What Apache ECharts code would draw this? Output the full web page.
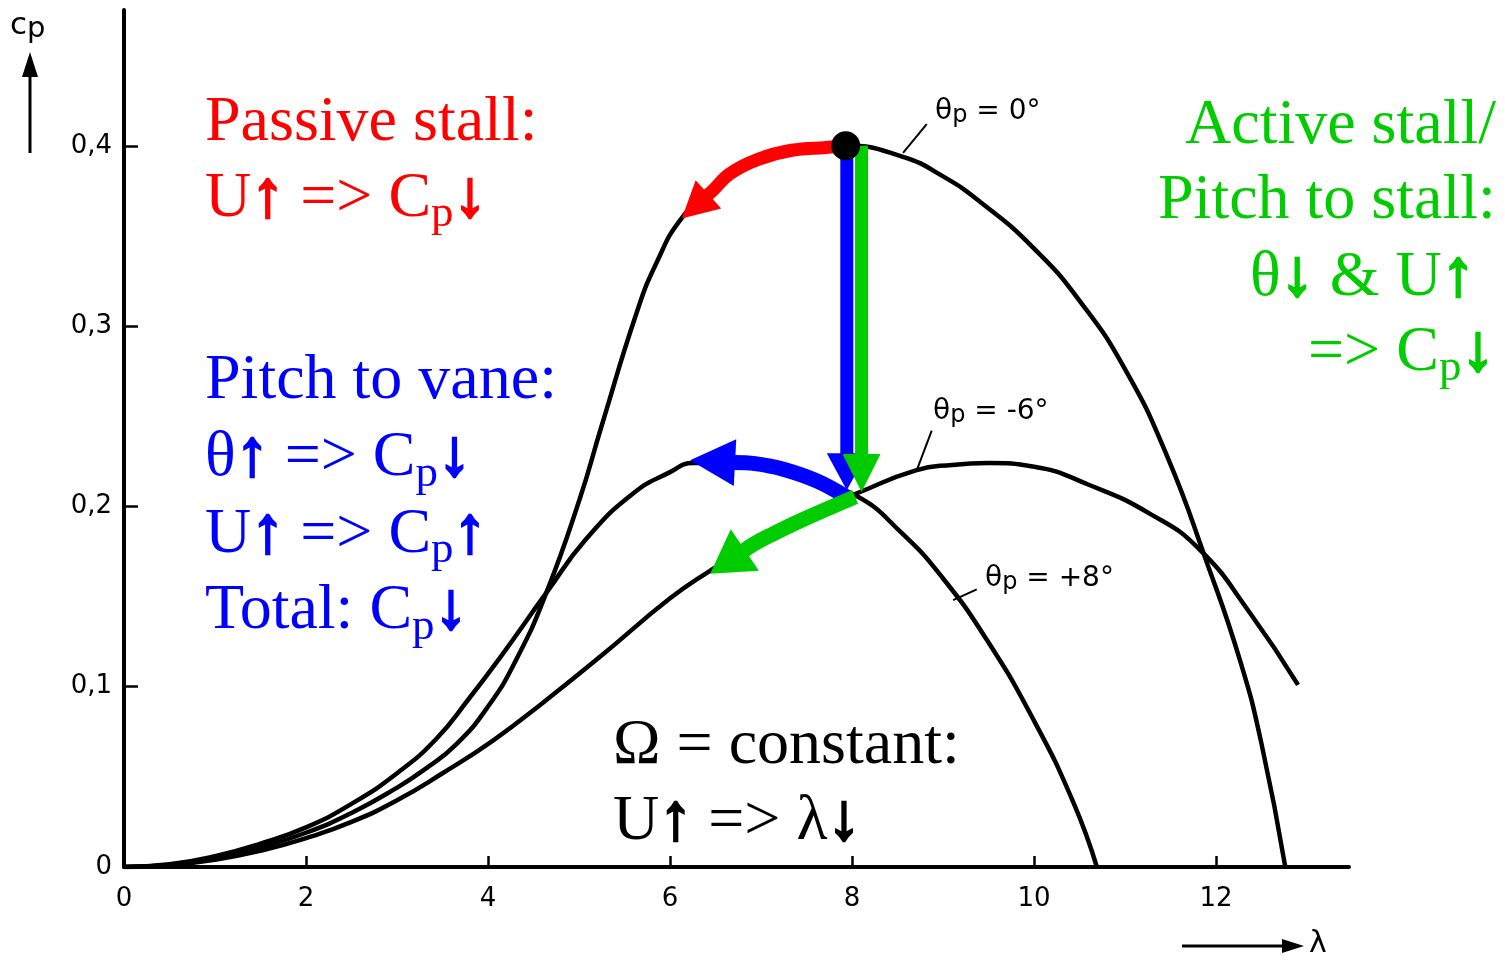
<!DOCTYPE html>
<html><head><meta charset="utf-8">
<script src="https://cdn.jsdelivr.net/npm/echarts@6/dist/echarts.min.js"></script>
<style>html,body{margin:0;padding:0;background:#fff}#c{width:1505px;height:961px}</style>
</head><body><div id="c"></div>
<script>
// ---------------- data ----------------
// theta_p = 0 deg
const lam0 = [0, 0.5, 1, 1.5, 2, 2.5, 3, 3.3, 3.65, 4.0, 4.31, 4.64, 5.0, 5.25, 5.63, 5.85, 6.13, 6.5, 7.0, 7.5, 7.93, 8.55, 9.0, 9.43, 10.0, 10.5, 11.0, 11.46, 11.89, 12.26, 12.5, 12.76];
const cp0  = [0, 0.001, 0.005, 0.011, 0.019, 0.030, 0.044, 0.054, 0.068, 0.089, 0.115, 0.152, 0.203, 0.245, 0.307, 0.335, 0.360, 0.378, 0.391, 0.398, 0.400, 0.394, 0.383, 0.368, 0.343, 0.314, 0.276, 0.228, 0.170, 0.115, 0.068, 0.0];
// theta_p = -6 deg
const lamM6 = [0, 0.5, 1, 1.5, 2, 2.5, 3, 3.43, 3.8, 4.13, 4.64, 5.08, 5.59, 6.0, 6.25, 6.6, 7.0, 7.5, 8.04, 8.55, 9.0, 9.48, 9.99, 10.43, 10.69];
const cpM6  = [0, 0.0015, 0.006, 0.013, 0.022, 0.035, 0.052, 0.071, 0.094, 0.116, 0.152, 0.182, 0.207, 0.219, 0.224, 0.224, 0.221, 0.214, 0.206, 0.185, 0.160, 0.126, 0.082, 0.036, 0.0];
// theta_p = +8 deg
const lamP8 = [0, 0.5, 1, 1.5, 2, 2.5, 3, 3.5, 4.05, 4.6, 5.24, 6.0, 6.43, 7.0, 7.5, 8.04, 8.7, 9.1, 9.5, 10.0, 10.6, 11.27, 11.82, 12.37, 12.9];
const cpP8  = [0, 0.001, 0.004, 0.009, 0.016, 0.025, 0.037, 0.052, 0.070, 0.091, 0.117, 0.149, 0.164, 0.182, 0.196, 0.207, 0.220, 0.223, 0.224, 0.222, 0.212, 0.196, 0.176, 0.141, 0.101];

const xTickValues  = [2, 4, 6, 8, 10, 12];
const xLabelValues = [0, 2, 4, 6, 8, 10, 12];
const yTickValues  = [0.1, 0.2, 0.3, 0.4];
const yLabelValues = [0, 0.1, 0.2, 0.3, 0.4];

const optimumPoint = [[7.93, 0.400]];

// annotation arrows (data coordinates; shaft points followed by the tip)
const arrowRed       = [[7.923, 0.4007], [7.777, 0.3993], [7.337, 0.3975], [6.967, 0.3925], [6.659, 0.3846], [6.473, 0.3754], [6.129, 0.3596]];
const arrowBlueDown  = [[7.942, 0.400], [7.942, 0.240], [7.942, 0.209]];
const arrowGreenDown = [[8.104, 0.400], [8.104, 0.240], [8.104, 0.208]];
const arrowBlueLeft  = [[7.945, 0.2050], [7.612, 0.2141], [7.245, 0.2206], [6.934, 0.2237], [6.220, 0.2256]];
const arrowGreenLeft = [[8.033, 0.2053], [7.429, 0.1920], [7.099, 0.1839], [6.912, 0.1789], [6.440, 0.1627]];

// curve label leader lines
const leader0  = [[8.56, 0.396], [8.82, 0.412]];
const leaderM6 = [[8.71, 0.220], [8.875, 0.242]];
const leaderP8 = [[9.11, 0.148], [9.37, 0.154]];

// ---------------- chart ----------------
const RED = '#ff0000', BLUE = '#0000ff', GREEN = '#00cc00';
const arrowPaths  = [arrowRed, arrowBlueDown, arrowGreenDown, arrowBlueLeft, arrowGreenLeft];
const arrowStyles = [
  {color: RED,   width: 13, headW: 38, headL: 36},
  {color: BLUE,  width: 13, headW: 40, headL: 37},
  {color: GREEN, width: 13, headW: 38, headL: 38},
  {color: BLUE,  width: 15, headW: 47, headL: 45},
  {color: GREEN, width: 15, headW: 50, headL: 42}
];

const serif = "'Liberation Serif','Times New Roman',serif";
const sans = "'DejaVu Sans',sans-serif";
function pairs(xs, ys) { return xs.map((x, i) => [x, ys[i]]); }

function curveSeries(xs, ys) {
  return {type: 'line', data: pairs(xs, ys), smooth: 0.5, showSymbol: false,
    lineStyle: {color: '#000', width: 4.5}, z: 2, silent: true};
}
function leaderSeries(pts) {
  return {type: 'line', data: pts, showSymbol: false, lineStyle: {color: '#000', width: 2}, z: 3, silent: true};
}

const chart = echarts.init(document.getElementById('c'));

function bigText(txt, x, y, color, lh) {
  return {type: 'text', x: x, y: y, z: 100, silent: true,
    style: {text: txt, fill: color, fontFamily: serif, fontSize: 64, lineHeight: lh || 76,
      verticalAlign: 'top', align: 'left',
      rich: {
        s: {fill: color, fontFamily: serif, fontSize: 45, lineHeight: 31, verticalAlign: 'bottom'},
        a: {fill: color, fontFamily: serif, fontSize: 66, fontWeight: 'bold',
            stroke: color, lineWidth: 2.5}
      }}};
}
function curveLabel(txt, x, y) {
  return {type: 'text', x: x, y: y, z: 100, silent: true,
    style: {text: txt, fill: '#000', fontFamily: sans, fontSize: 28, lineHeight: 32,
      verticalAlign: 'top', align: 'left',
      rich: {s: {fill: '#000', fontFamily: sans, fontSize: 24, lineHeight: 18, verticalAlign: 'bottom'}}}};
}

const option = {
  animation: false,
  backgroundColor: '#ffffff',
  grid: {left: 124, right: 156, top: 10, bottom: 94},
  xAxis: {
    type: 'value', min: 0, max: 13.46,
    axisLine: {show: true, onZero: false, lineStyle: {color: '#000', width: 4}},
    axisTick: {show: true, inside: true, length: 11, lineStyle: {color: '#000', width: 2.5}, customValues: xTickValues},
    axisLabel: {show: true, margin: 19, color: '#000', fontSize: 26, fontFamily: sans,
      customValues: xLabelValues, formatter: v => String(v)},
    splitLine: {show: false}
  },
  yAxis: {
    type: 'value', min: 0, max: 0.4753,
    axisLine: {show: true, onZero: false, lineStyle: {color: '#000', width: 4}},
    axisTick: {show: true, inside: true, length: 14, lineStyle: {color: '#000', width: 2.5}, customValues: yTickValues},
    axisLabel: {show: true, margin: 12, color: '#000', fontSize: 26, fontFamily: sans,
      customValues: yLabelValues, formatter: v => (v === 0 ? '0' : v.toFixed(1).replace('.', ','))},
    splitLine: {show: false}
  },
  series: [
    curveSeries(lam0, cp0),
    curveSeries(lamM6, cpM6),
    curveSeries(lamP8, cpP8),
    leaderSeries(leader0),
    leaderSeries(leaderM6),
    leaderSeries(leaderP8),
    {
      type: 'custom', coordinateSystem: 'cartesian2d', z: 5, silent: true,
      data: arrowPaths.map((p, i) => [p[0][0], p[0][1], i]),
      renderItem: function (params, api) {
        const i = api.value(2);
        const st = arrowStyles[i];
        const pts = arrowPaths[i].map(p => api.coord(p));
        const n = pts.length;
        const tip = pts[n - 1], last = pts[n - 2];
        let dx = tip[0] - last[0], dy = tip[1] - last[1];
        const len = Math.hypot(dx, dy); dx /= len; dy /= len;
        const base = [tip[0] - dx * st.headL, tip[1] - dy * st.headL];
        const nx = -dy, ny = dx, hw = st.headW / 2;
        const p1 = [base[0] + nx * hw, base[1] + ny * hw];
        const p2 = [base[0] - nx * hw, base[1] - ny * hw];
        const shaft = pts.slice(0, n - 1);
        shaft.push([base[0] + dx * 2, base[1] + dy * 2]);
        return {type: 'group', children: [
          {type: 'polyline', shape: {points: shaft, smooth: shaft.length > 3 ? 0.4 : 0},
            style: {stroke: st.color, lineWidth: st.width, fill: null, lineCap: 'butt', lineJoin: 'round'}},
          {type: 'polygon', shape: {points: [tip, p1, p2]}, style: {fill: st.color}}
        ]};
      }
    },
    {type: 'scatter', data: optimumPoint, symbol: 'circle', symbolSize: 29,
      itemStyle: {color: '#000', opacity: 1}, z: 20, silent: true}
  ],
  graphic: [
    // axis titles
    {type: 'text', x: 10, y: 8, z: 100, silent: true,
      style: {text: 'c{s|p}', fill: '#000', fontFamily: sans, fontSize: 31, lineHeight: 36, verticalAlign: 'top',
        rich: {s: {fill: '#000', fontFamily: sans, fontSize: 29, lineHeight: 13, verticalAlign: 'bottom'}}}},
    {type: 'line', z: 100, silent: true, shape: {x1: 30, y1: 153, x2: 30, y2: 72}, style: {stroke: '#000', lineWidth: 3}},
    {type: 'polygon', z: 100, silent: true, shape: {points: [[30, 52], [22, 77], [38, 77]]}, style: {fill: '#000'}},
    {type: 'line', z: 100, silent: true, shape: {x1: 1182, y1: 946, x2: 1286, y2: 946}, style: {stroke: '#000', lineWidth: 3}},
    {type: 'polygon', z: 100, silent: true, shape: {points: [[1304, 946], [1282, 939], [1282, 953]]}, style: {fill: '#000'}},
    {type: 'text', x: 1309, y: 929, z: 100, silent: true,
      style: {text: 'λ', fill: '#000', fontFamily: sans, fontSize: 30, verticalAlign: 'top'}},
    // curve labels
    curveLabel('θ{s|p} = 0°', 935, 96),
    curveLabel('θ{s|p} = -6°', 933, 396),
    curveLabel('θ{s|p} = +8°', 985, 563),
    // annotation blocks
    bigText('Passive stall:\nU{a|↑} => C{s|p}{a|↓}', 205, 85, RED, 76),
    bigText('Pitch to vane:\nθ{a|↑} => C{s|p}{a|↓}\nU{a|↑} => C{s|p}{a|↑}\nTotal: C{s|p}{a|↓}', 205, 343, BLUE, 76.7),
    bigText('Active stall/', 1185, 88, GREEN, 76),
    bigText('Pitch to stall:', 1158, 163, GREEN, 76),
    bigText('θ{a|↓} & U{a|↑}', 1250, 240, GREEN, 76),
    bigText('=> C{s|p}{a|↓}', 1308, 315, GREEN, 76),
    bigText('Ω = constant:\nU{a|↑} => λ{a|↓}', 613, 708, '#000', 76)
  ]
};
chart.setOption(option);
</script>
</body></html>
